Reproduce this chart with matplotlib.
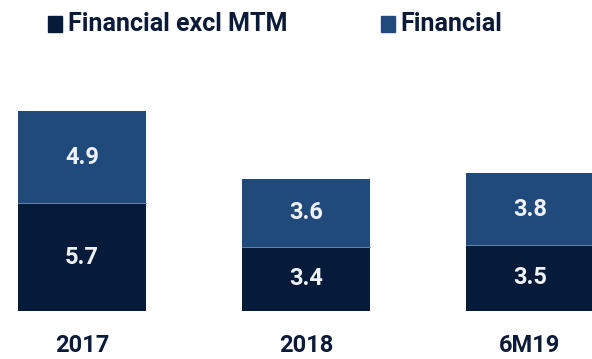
import matplotlib
matplotlib.use("Agg")
import matplotlib.pyplot as plt
from matplotlib.patches import Rectangle

categories = ["2017", "2018", "6M19"]
excl_mtm = [5.7, 3.4, 3.5]
financial = [4.9, 3.6, 3.8]
series_names = ["Financial excl MTM", "Financial"]

dark = "#061a3a"
mid = "#214a7c"
label_col = "#0b1a38"
value_col = "#eef1f7"

W, H = 592, 359
fig = plt.figure(figsize=(W / 100, H / 100), dpi=100)
plt.rcParams["font.family"] = ["Roboto", "DejaVu Sans"]

ax = fig.add_axes([0, 48 / H, 1, 311 / H])
ax.set_xlim(-82 / 224, (W - 82) / 224)
ax.set_ylim(0, 311 / 18.87)
ax.axis("off")

x = list(range(len(categories)))
width = 128 / 224
ax.bar(x, excl_mtm, width=width, color=dark, edgecolor="none")
ax.bar(x, financial, width=width, bottom=excl_mtm, color=mid, edgecolor="none")
# thin light seam between the two segments
for xi, b in zip(x, excl_mtm):
    ax.plot([xi - width / 2, xi + width / 2], [b, b], color="#7f93b3", lw=0.6)

for xi, a, b in zip(x, excl_mtm, financial):
    ax.text(xi, a / 2, f"{a:.1f}", ha="center", va="center", color=value_col,
            fontsize=17, fontweight="bold")
    ax.text(xi, a + b / 2, f"{b:.1f}", ha="center", va="center", color=value_col,
            fontsize=17, fontweight="bold")

for xi, c in zip(x, categories):
    fig.text((82 + 224 * xi) / W, 1 - 345 / H, c, ha="center", va="center",
             color=label_col, fontsize=17, fontweight="bold")

# legend row
legend_items = [(48, 68, dark, series_names[0]), (381, 400, mid, series_names[1])]
for sx, tx, col, name in legend_items:
    fig.patches.append(Rectangle((sx / W, 1 - 32 / H), 14 / W, 16 / H,
                                 transform=fig.transFigure, color=col))
    fig.text(tx / W, 1 - 24 / H, name, ha="left", va="center", color=label_col,
             fontsize=18, fontweight="bold")

fig.savefig("out.png", dpi=100, facecolor="white")
